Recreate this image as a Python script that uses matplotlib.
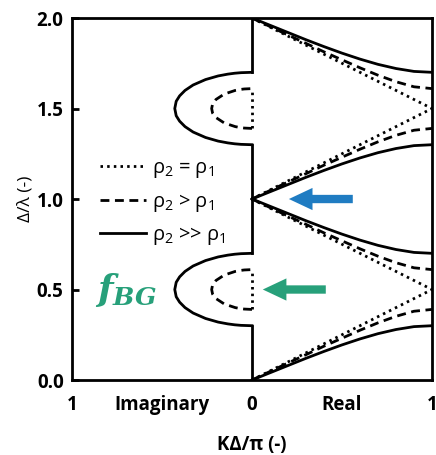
import matplotlib
matplotlib.use("Agg")
import matplotlib.pyplot as plt
import numpy as np

plt.rcParams['font.family'] = ['Open Sans', 'DejaVu Sans']
plt.rcParams['mathtext.fontset'] = 'custom'
plt.rcParams['mathtext.rm'] = 'Open Sans'
plt.rcParams['mathtext.it'] = 'DejaVu Serif:italic:bold'
plt.rcParams['mathtext.bf'] = 'DejaVu Serif:italic:bold'

# ---- data ----
# Real part: K*Delta/pi samples and lowest-band Delta/lambda values
k_real = [0.0, 0.1, 0.2, 0.3, 0.4, 0.5, 0.6, 0.7, 0.8, 0.9, 1.0]
band_dotted = [0.0, 0.05, 0.10, 0.15, 0.20, 0.25, 0.30, 0.35, 0.40, 0.45, 0.50]
band_dashed = [0.0, 0.047, 0.094, 0.140, 0.187, 0.231, 0.275, 0.316, 0.352, 0.380, 0.390]
band_solid = [0.0, 0.040, 0.080, 0.120, 0.158, 0.194, 0.227, 0.256, 0.279, 0.295, 0.300]

# Imaginary part (lower half of gap, mirrored about the gap centre)
gap_solid_y = [0.300, 0.302, 0.305, 0.310, 0.320, 0.340, 0.370, 0.400, 0.430, 0.460, 0.500]
gap_solid_k = [0.0, 0.061, 0.096, 0.134, 0.188, 0.258, 0.327, 0.372, 0.402, 0.421, 0.429]
gap_dashed_y = [0.390, 0.392, 0.395, 0.400, 0.420, 0.450, 0.475, 0.500]
gap_dashed_k = [0.0, 0.043, 0.067, 0.093, 0.154, 0.200, 0.219, 0.224]

gap_centres = [0.5, 1.5]
x_tick_pos = [-1, -0.5, 0, 0.5, 1]
x_tick_labels = ['1', 'Imaginary', '0', 'Real', '1']
y_ticks = [0.0, 0.5, 1.0, 1.5, 2.0]
legend_labels = [r'ρ$_2$ = ρ$_1$', r'ρ$_2$ > ρ$_1$', r'ρ$_2$ >> ρ$_1$']

fig = plt.figure(figsize=(4.36, 4.55), dpi=100)
ax = fig.add_axes([0.1651, 0.1648, 0.8257, 0.7956])

lw = 2.0
styles = {
    'dotted': dict(color='black', lw=lw, linestyle=(0, (0.9, 1.5))),
    'dashed': dict(color='black', lw=lw, linestyle=(0, (3.2, 2.0))),
    'solid': dict(color='black', lw=lw, linestyle='-'),
}

kr = np.array(k_real)
for name, band in [('dotted', band_dotted), ('dashed', band_dashed), ('solid', band_solid)]:
    b = np.array(band)
    st = styles[name]
    # four bands from symmetry of the diagram
    ax.plot(kr, b, **st)
    ax.plot(kr, 1 - b, **st)
    ax.plot(kr, 1 + b, **st)
    ax.plot(kr, 2 - b, **st)

# imaginary part
for c in gap_centres:
    for name, ys, ks in [('solid', gap_solid_y, gap_solid_k), ('dashed', gap_dashed_y, gap_dashed_k)]:
        ys = np.array(ys); ks = np.array(ks)
        yy = np.concatenate([c - 0.5 + ys, (c + 0.5 - ys)[::-1][1:]])
        kk = np.concatenate([ks, ks[::-1][1:]])
        ax.plot(-kk, yy, **styles[name])

# centre line (Im K = 0 in pass bands)
for y0, y1 in [(0.0, 0.3), (0.7, 1.3), (1.7, 2.0)]:
    ax.plot([0, 0], [y0, y1], **styles['solid'])
for y0, y1 in [(0.39, 0.61), (1.39, 1.61)]:
    ax.plot([0, 0], [y0, y1], **styles['dotted'])

# legend
h = [plt.Line2D([], [], **styles[n]) for n in ['dotted', 'dashed', 'solid']]
leg = ax.legend(h, legend_labels, loc='upper left', bbox_to_anchor=(0.078, 0.612),
                frameon=False, fontsize=14.5, handlelength=2.3, handletextpad=0.3,
                labelspacing=0.55, borderaxespad=0, borderpad=0)

# arrows
astyle = 'simple,head_length=1.7,head_width=1.6,tail_width=0.6'
ax.annotate('', xy=(0.205, 1.0), xytext=(0.56, 1.0),
            arrowprops=dict(arrowstyle=astyle, color='#1f7cc2', lw=0, shrinkA=0, shrinkB=0))
ax.annotate('', xy=(0.06, 0.5), xytext=(0.41, 0.5),
            arrowprops=dict(arrowstyle=astyle, color='#27a07a', lw=0, shrinkA=0, shrinkB=0))
ax.text(-0.87, 0.5, r'$f_{BG}$', color='#27a07a', fontsize=26, ha='left', va='center')

ax.set_xlim(-1, 1)
ax.set_ylim(0, 2)
ax.set_xticks(x_tick_pos)
ax.set_xticklabels(x_tick_labels, fontsize=13.5, fontweight='bold')
ax.set_yticks(y_ticks)
ax.set_yticklabels([f'{v:.1f}' for v in y_ticks], fontsize=13.5, fontweight='bold')
ax.tick_params(axis='x', length=0, pad=11)
ax.tick_params(axis='y', direction='in', length=5, width=2.0, pad=6)
for s in ax.spines.values():
    s.set_linewidth(2.0)
ax.set_xlabel('KΔ/π (-)', fontsize=13.5, fontweight='bold', labelpad=14)
ax.set_ylabel('Δ/λ (-)', fontsize=12.5, labelpad=2)

fig.savefig('out.png', dpi=100)
